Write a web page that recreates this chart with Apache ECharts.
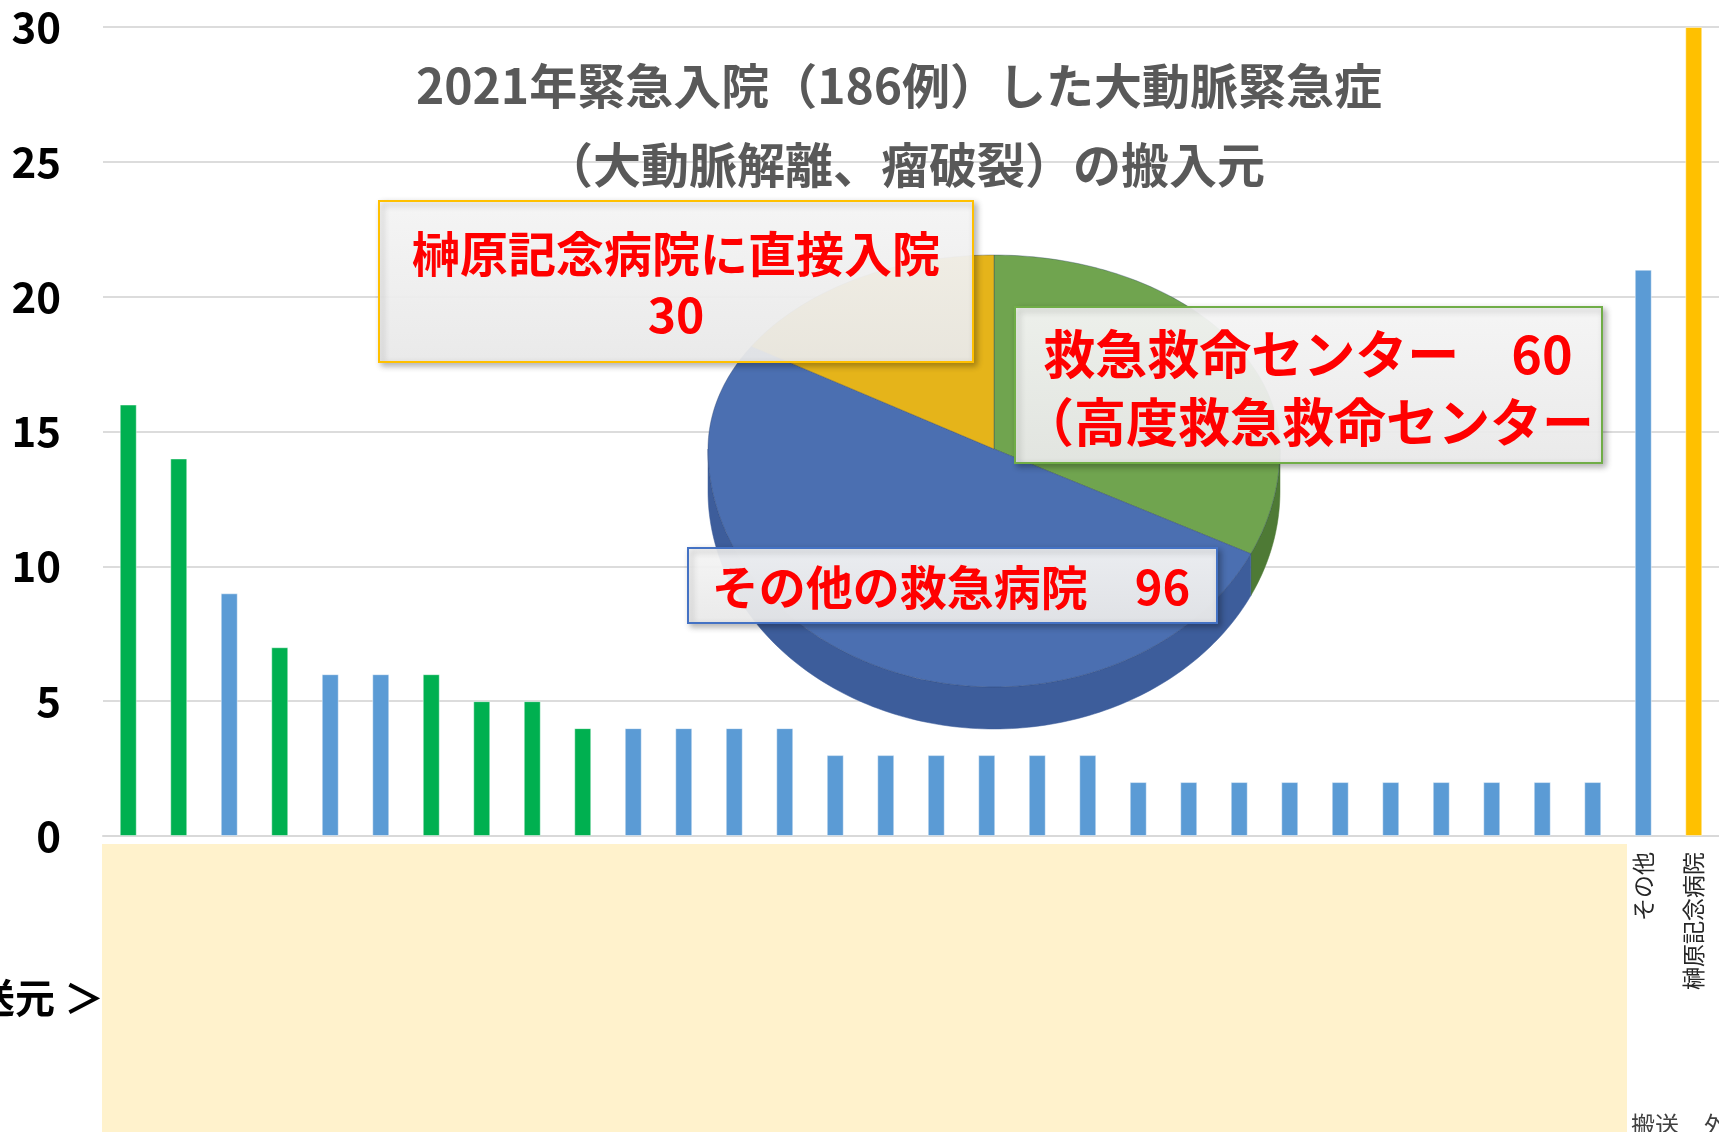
<!DOCTYPE html>
<html>
<head>
<meta charset="utf-8">
<script src="https://cdn.jsdelivr.net/npm/echarts@6/dist/echarts.min.js"></script>
<style>
  html, body { margin: 0; padding: 0; background: #fff; }
  #chart { width: 1719px; height: 1132px; }
</style>
</head>
<body>
<div id="chart"></div>
<script>
// 搬送元ごとの件数（左の30件は病院名が隠されている）
const categories = [
  '', '', '', '', '', '', '', '', '', '',
  '', '', '', '', '', '', '', '', '', '',
  '', '', '', '', '', '', '', '', '', '',
  'その他', '榊原記念病院'
]
const counts = [16, 14, 9, 7, 6, 6, 6, 5, 5, 4,
  4, 4, 4, 4, 3, 3, 3, 3, 3, 3,
  2, 2, 2, 2, 2, 2, 2, 2, 2, 2,
  21, 30]
// C: 救命センター, O: その他の救急病院, S: 直接入院
const hospitalType = ['C', 'C', 'O', 'C', 'O', 'O', 'C', 'C', 'C', 'C',
  'O', 'O', 'O', 'O', 'O', 'O', 'O', 'O', 'O', 'O',
  'O', 'O', 'O', 'O', 'O', 'O', 'O', 'O', 'O', 'O',
  'O', 'S']
const yTicks = [0, 5, 10, 15, 20, 25, 30]

// 円グラフ（時計回り、12時から）
const pieNames = ['救急救命センター', 'その他の救急病院', '榊原記念病院に直接入院']
const pieValues = [60, 96, 30]

const titleLines = ['2021年緊急入院（186例）した大動脈緊急症', '（大動脈解離、瘤破裂）の搬入元']

const FONT = '"Noto Sans CJK JP", "Noto Sans", sans-serif'
const barColors = { C: '#00B050', O: '#5B9BD5', S: '#FFC000' }
const pieTop = ['#70A44F', '#4B6FB1', '#E5B41A']
const pieSide = ['#4E7A35', '#3D5D9B', '#B58C0E']

// 3D風の楕円（手前側を少し大きく）
const PIE = { cx: 994, cy: 449, rx: 286, ryTop: 194, ryBot: 238, depth: 42 }

function rim(theta, dy) {
  const s = Math.sin(theta)
  return [PIE.cx + PIE.rx * Math.cos(theta), PIE.cy - (s > 0 ? PIE.ryTop : PIE.ryBot) * s + (dy || 0)]
}

function arcPoints(from, to, dy) {
  const pts = []
  const n = Math.max(2, Math.ceil(Math.abs(to - from) / 0.02))
  for (let k = 0; k <= n; k++) {
    pts.push(rim(from + (to - from) * k / n, dy))
  }
  return pts
}

const pieTotal = pieValues.reduce((a, b) => a + b, 0)

function renderSlice(params, api) {
  const i = params.dataIndex
  let before = 0
  for (let k = 0; k < i; k++) before += pieValues[k]
  const a0 = Math.PI / 2 - 2 * Math.PI * before / pieTotal
  const a1 = a0 - 2 * Math.PI * api.value(0) / pieTotal
  const children = []
  // 側面（手前半分のみ）
  const lo = Math.max(a1, -Math.PI)
  const hi = Math.min(a0, 0)
  if (lo < hi) {
    const pts = arcPoints(hi, lo, 0).concat(arcPoints(lo, hi, PIE.depth))
    children.push({
      type: 'polygon',
      shape: { points: pts },
      style: { fill: pieSide[i], stroke: pieSide[i], lineWidth: 0.5 }
    })
  }
  // 上面
  const top = [[PIE.cx, PIE.cy]].concat(arcPoints(a0, a1, 0))
  children.push({
    type: 'polygon',
    shape: { points: top },
    style: { fill: pieTop[i], stroke: 'rgba(40,60,100,0.35)', lineWidth: 1 }
  })
  return { type: 'group', children: children }
}

function box(x, y, w, h, border) {
  return {
    type: 'rect',
    z: 110,
    shape: { x: x, y: y, width: w, height: h },
    style: {
      fill: {
        type: 'linear', x: 0, y: 0, x2: 0, y2: 1,
        colorStops: [
          { offset: 0, color: 'rgba(250,250,250,0.92)' },
          { offset: 1, color: 'rgba(238,238,238,0.92)' }
        ]
      },
      stroke: border,
      lineWidth: 2,
      shadowBlur: 6,
      shadowColor: 'rgba(0,0,0,0.3)',
      shadowOffsetX: 3,
      shadowOffsetY: 3
    }
  }
}

function redText(text, x, y, size) {
  return {
    type: 'text',
    z: 120,
    x: x,
    y: y,
    style: {
      text: text,
      fill: '#FF0000',
      fontSize: size,
      fontWeight: 'bold',
      fontFamily: FONT,
      textAlign: 'center',
      textVerticalAlign: 'middle',
      shadowColor: 'rgba(0,0,0,0.45)',
      shadowBlur: 3,
      shadowOffsetX: 2,
      shadowOffsetY: 2
    }
  }
}

function grayText(text, x, y, size, weight, color, align, valign) {
  return {
    type: 'text',
    z: 120,
    x: x,
    y: y,
    style: {
      text: text,
      fill: color,
      fontSize: size,
      fontWeight: weight,
      fontFamily: FONT,
      textAlign: align,
      textVerticalAlign: valign
    }
  }
}

const chart = echarts.init(document.getElementById('chart'))

const option = {
  backgroundColor: '#ffffff',
  animation: false,
  grid: { left: 103, top: 27, width: 1620, height: 809 },
  xAxis: {
    type: 'category',
    data: categories,
    axisLine: { show: true, lineStyle: { color: '#D9D9D9', width: 2 } },
    axisTick: { show: false },
    axisLabel: {
      interval: 0,
      rotate: 90,
      margin: 16,
      fontSize: 23,
      color: '#262626',
      fontFamily: FONT
    }
  },
  yAxis: {
    type: 'value',
    min: yTicks[0],
    max: yTicks[yTicks.length - 1],
    interval: yTicks[1] - yTicks[0],
    axisLine: { show: false },
    axisTick: { show: false },
    axisLabel: {
      margin: 42,
      fontSize: 42,
      fontWeight: 'bold',
      color: '#000',
      fontFamily: FONT
    },
    splitLine: { lineStyle: { color: '#DCDCDC', width: 2 } }
  },
  series: [
    {
      type: 'bar',
      z: 2,
      barWidth: 17,
      data: counts.map((v, i) => ({
        value: v,
        itemStyle: { color: barColors[hospitalType[i]] }
      })),
      itemStyle: { borderColor: 'rgba(255,255,255,0.45)', borderWidth: 1 }
    },
    {
      type: 'custom',
      coordinateSystem: 'none',
      z: 20,
      silent: true,
      data: pieValues,
      renderItem: renderSlice
    }
  ],
  graphic: [
    // 搬送元ラベルを隠す帯
    {
      type: 'rect',
      z: 100,
      shape: { x: 102, y: 844, width: 1525, height: 300 },
      style: { fill: '#FFF2CC' }
    },
    grayText('＜搬送元 ＞', 104, 998, 40, 'bold', '#000', 'right', 'middle'),
    grayText('搬送', 1631, 1113, 24, 'normal', '#404040', 'left', 'top'),
    grayText('外', 1704, 1113, 24, 'normal', '#404040', 'left', 'top'),
    // タイトル
    grayText(titleLines[0], 899, 86, 48, 'bold', '#595959', 'center', 'middle'),
    grayText(titleLines[1], 905, 165, 48, 'bold', '#595959', 'center', 'middle'),
    // 円グラフのラベル
    box(379, 201, 594, 161, '#FFC000'),
    redText(pieNames[2], 676, 254, 48),
    redText(String(pieValues[2]), 676, 315, 48),
    box(1015, 307, 587, 156, '#70AD47'),
    redText(pieNames[0] + '　' + pieValues[0], 1308, 354, 52),
    redText('（高度救急救命センター', 1308, 422, 52),
    box(688, 548, 529, 75, '#4472C4'),
    redText(pieNames[1] + '　' + pieValues[1], 951, 587, 47)
  ]
}

chart.setOption(option)
</script>
</body>
</html>
